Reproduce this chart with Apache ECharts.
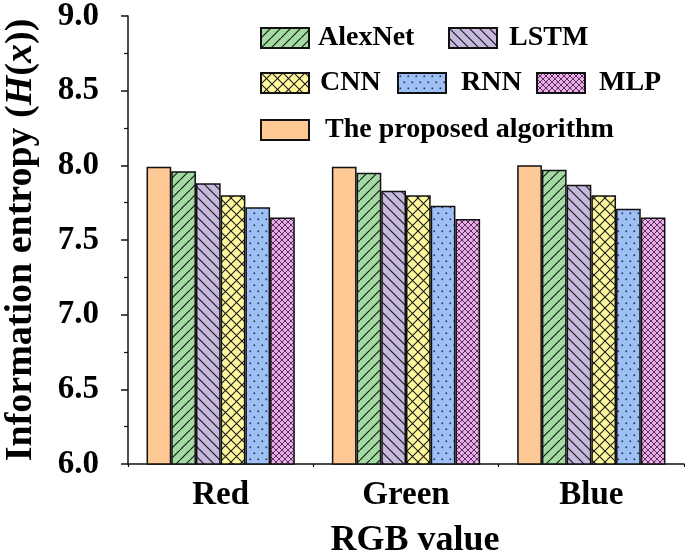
<!DOCTYPE html>
<html>
<head>
<meta charset="utf-8">
<script src="https://cdn.jsdelivr.net/npm/echarts@6/dist/echarts.min.js"></script>
<style>html,body{margin:0;padding:0;background:#fff;}#c{width:685px;height:556px;}</style>
</head>
<body>
<div id="c"></div>
<script>
var categories = ['Red', 'Green', 'Blue'];
var proposed = [7.99, 7.99, 8.00];
var alexnet = [7.96, 7.95, 7.97];
var lstm = [7.88, 7.83, 7.87];
var cnn = [7.80, 7.80, 7.80];
var rnn = [7.72, 7.73, 7.71];
var mlp = [7.65, 7.64, 7.65];
var yMin = 6.0, yMax = 9.0, yStep = 0.5;

var FONT = '"Liberation Serif", "Times New Roman", serif';

function makePattern(w, h, bg, draw) {
  var c = document.createElement('canvas');
  c.width = w; c.height = h;
  var ctx = c.getContext('2d');
  ctx.fillStyle = bg; ctx.fillRect(0, 0, w, h);
  draw(ctx, w, h);
  return { image: c, repeat: 'repeat' };
}
function fwd(ctx, w, h) { // "/"
  ctx.beginPath();
  ctx.moveTo(0, h); ctx.lineTo(w, 0);
  ctx.moveTo(-w, h); ctx.lineTo(0, 0);
  ctx.moveTo(w, 2*h); ctx.lineTo(2*w, h);
  ctx.stroke();
}
function back(ctx, w, h) { // "\"
  ctx.beginPath();
  ctx.moveTo(0, 0); ctx.lineTo(w, h);
  ctx.moveTo(-w, 0); ctx.lineTo(0, h);
  ctx.moveTo(w, 0); ctx.lineTo(2*w, h);
  ctx.moveTo(0, -h); ctx.lineTo(w, 0);
  ctx.moveTo(0, h); ctx.lineTo(w, 2*h);
  ctx.stroke();
}
var pGreen = makePattern(10, 10, '#a3dba3', function (ctx, w, h) {
  ctx.strokeStyle = '#1a1a1a'; ctx.lineWidth = 1.2; fwd(ctx, w, h);
});
var pPurple = makePattern(10, 10, '#c7b8de', function (ctx, w, h) {
  ctx.strokeStyle = '#1a1a1a'; ctx.lineWidth = 1.2; back(ctx, w, h);
});
var pYellow = makePattern(11, 11, '#fff89c', function (ctx, w, h) {
  ctx.strokeStyle = '#1a1a1a'; ctx.lineWidth = 1.1; fwd(ctx, w, h); back(ctx, w, h);
});
var pBlue = makePattern(8, 12, '#9fc0f5', function (ctx, w, h) {
  ctx.fillStyle = '#1c2a55';
  ctx.fillRect(1.5, 2.5, 1.6, 1.6);
  ctx.fillRect(5.5, 8.5, 1.6, 1.6);
});
var pPink = makePattern(6, 6, '#e9aee9', function (ctx, w, h) {
  ctx.strokeStyle = '#4a2048'; ctx.lineWidth = 0.9; fwd(ctx, w, h); back(ctx, w, h);
});

var border = { borderColor: '#111', borderWidth: 1.5 };
function series(name, data, color) {
  return {
    name: name, type: 'bar', data: data, xAxisIndex: 0,
    barGap: '0%', barCategoryGap: '20%',
    itemStyle: Object.assign({ color: color }, border)
  };
}

var legendText = { fontFamily: FONT, fontWeight: 'bold', fontSize: 28, color: '#000' };
function lg(name, left, top, padLeft) {
  return {
    data: [name], left: left, top: top, padding: 0,
    itemWidth: 48, itemHeight: 20, icon: 'rect',
    textStyle: Object.assign({ padding: [0, 0, 0, padLeft] }, legendText)
  };
}

var chart = echarts.init(document.getElementById('c'));
chart.setOption({
  animation: false,
  backgroundColor: '#fff',
  grid: { left: 128, right: 1, top: 16, bottom: 92, containLabel: false, outerBoundsMode: 'none' },
  legend: [
    lg('AlexNet', 260, 24, 4),
    lg('LSTM', 448, 24, 7),
    lg('CNN', 260, 69, 6),
    lg('RNN', 397, 69, 10),
    lg('MLP', 536, 69, 9),
    lg('The proposed algorithm', 260, 116, 11)
  ],
  xAxis: [{
    type: 'category', data: categories, position: 'bottom',
    axisLine: { lineStyle: { color: '#111', width: 1.5 } },
    axisTick: { alignWithLabel: true, length: 8, lineStyle: { color: '#111', width: 1.5 } },
    axisLabel: { fontFamily: FONT, fontWeight: 'bold', fontSize: 33, color: '#000', margin: 15 },
    name: 'RGB value', nameLocation: 'middle', nameGap: 59,
    nameTextStyle: { fontFamily: FONT, fontWeight: 'bold', fontSize: 36, color: '#000', padding: [0, 0, 0, 18] }
  }, {
    type: 'category', data: categories, position: 'bottom',
    axisLine: { show: false },
    axisTick: { show: true, length: 3, lineStyle: { color: '#111', width: 1.2 } },
    axisLabel: { show: false }
  }],
  yAxis: {
    type: 'value', min: yMin, max: yMax, interval: yStep,
    axisLine: { show: true, lineStyle: { color: '#111', width: 1.5 } },
    axisTick: { show: true, length: 7, lineStyle: { color: '#111', width: 1.5 } },
    minorTick: { show: true, splitNumber: 2, length: 4, lineStyle: { color: '#111', width: 1.2 } },
    splitLine: { show: false },
    axisLabel: {
      fontFamily: FONT, fontWeight: 'bold', fontSize: 33, color: '#000', margin: 29,
      formatter: function (v) { return v.toFixed(1); }
    },
    name: 'Information entropy ({i|H}({i|x}))',
    nameLocation: 'middle', nameGap: 88,
    nameTextStyle: {
      fontFamily: FONT, fontWeight: 'bold', fontSize: 38, color: '#000',
      rich: { i: { fontFamily: FONT, fontWeight: 'bold', fontStyle: 'italic', fontSize: 38, color: '#000' } }
    }
  },
  series: [
    series('The proposed algorithm', proposed, '#ffc996'),
    series('AlexNet', alexnet, pGreen),
    series('LSTM', lstm, pPurple),
    series('CNN', cnn, pYellow),
    series('RNN', rnn, pBlue),
    series('MLP', mlp, pPink)
  ]
});
</script>
</body>
</html>
